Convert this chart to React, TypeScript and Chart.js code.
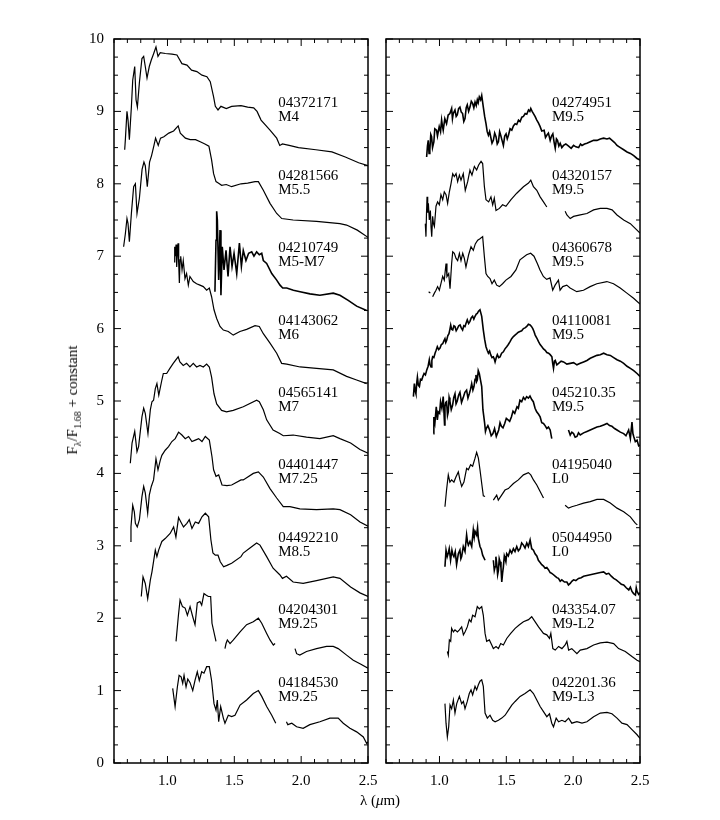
import { useEffect, useRef } from "react";
import { Chart, registerables } from "chart.js";
Chart.register(...registerables);

type P = [number, number];

// ---------- tick labels ----------
const xLabelTicks = [1.0, 1.5, 2.0, 2.5];
const xMinorTicks = [0.6, 0.7, 0.8, 0.9, 1.0, 1.1, 1.2, 1.3, 1.4, 1.5, 1.6, 1.7, 1.8, 1.9, 2.0, 2.1, 2.2, 2.3, 2.4, 2.5];
const yLabelTicks = [0, 1, 2, 3, 4, 5, 6, 7, 8, 9, 10];
const yMinorTicks = Array.from({ length: 41 }, (_, i) => i * 0.25);

// ---------- left panel spectra ----------
const s04372171: P[] = [[0.68,8.47],[0.685,8.61],[0.697,9.0],[0.705,8.88],[0.715,8.61],[0.73,9.06],[0.74,9.43],[0.755,9.62],[0.765,9.16],[0.775,9.06],[0.79,9.4],[0.809,9.73],[0.822,9.76],[0.834,9.62],[0.847,9.46],[0.864,9.62],[0.879,9.71],[0.897,9.8],[0.914,9.89],[0.929,9.76],[0.946,9.81],[0.984,9.8],[1.034,9.79],[1.071,9.78],[1.108,9.66],[1.146,9.64],[1.18,9.57],[1.22,9.55],[1.258,9.5],[1.295,9.48],[1.32,9.41],[1.345,9.2],[1.358,9.07],[1.378,9.02],[1.40,9.07],[1.44,9.04],[1.48,9.07],[1.55,9.08],[1.60,9.06],[1.645,9.05],[1.67,9.0],[1.70,8.88],[1.767,8.74],[1.817,8.63],[1.84,8.53],[1.86,8.55],[1.91,8.53],[1.98,8.5],[2.11,8.47],[2.23,8.44],[2.33,8.37],[2.43,8.29],[2.5,8.25]];
const s04281566: P[] = [[0.672,7.13],[0.685,7.31],[0.697,7.52],[0.705,7.45],[0.715,7.2],[0.73,7.59],[0.747,7.96],[0.76,8.0],[0.772,7.59],[0.79,7.8],[0.81,8.2],[0.824,8.3],[0.834,8.25],[0.849,7.96],[0.866,8.3],[0.881,8.39],[0.899,8.53],[0.911,8.63],[0.931,8.53],[0.948,8.63],[0.973,8.65],[1.01,8.7],[1.046,8.73],[1.08,8.8],[1.096,8.7],[1.134,8.63],[1.17,8.61],[1.21,8.61],[1.245,8.58],[1.28,8.55],[1.31,8.52],[1.33,8.33],[1.345,8.14],[1.363,8.03],[1.38,8.01],[1.405,7.98],[1.44,7.99],[1.48,7.96],[1.55,8.0],[1.6,8.01],[1.655,8.03],[1.68,8.03],[1.717,7.91],[1.767,7.73],[1.817,7.59],[1.855,7.52],[1.94,7.5],[2.115,7.48],[2.29,7.45],[2.34,7.43],[2.42,7.36],[2.5,7.26]];
const s04210749: P[] = [[1.355,6.51],[1.363,7.22],[1.368,7.62],[1.373,7.5],[1.383,6.67],[1.393,7.36],[1.4,6.46],[1.41,7.13],[1.423,6.81],[1.438,7.08],[1.453,6.72],[1.468,7.13],[1.483,6.86],[1.498,7.04],[1.518,6.76],[1.538,7.18],[1.553,6.86],[1.567,7.08],[1.587,6.94],[1.607,7.04],[1.63,7.06],[1.647,7.0],[1.667,7.06],[1.687,7.02],[1.705,7.04],[1.717,6.94],[1.742,6.9],[1.78,6.76],[1.817,6.67],[1.842,6.6],[1.862,6.56],[1.892,6.56],[1.942,6.53],[1.992,6.51],[2.066,6.48],[2.14,6.46],[2.24,6.49],[2.29,6.46],[2.352,6.39],[2.415,6.31],[2.49,6.25]];
const s04143062: P[] = [[1.049,6.92],[1.054,7.13],[1.059,7.0],[1.064,7.16],[1.069,6.85],[1.074,7.05],[1.079,7.18],[1.084,6.9],[1.089,6.63],[1.094,6.95],[1.099,7.0],[1.109,6.81],[1.118,6.94],[1.131,6.69],[1.143,6.76],[1.156,6.6],[1.168,6.72],[1.193,6.65],[1.218,6.62],[1.243,6.6],[1.268,6.58],[1.293,6.53],[1.313,6.56],[1.33,6.44],[1.348,6.26],[1.368,6.14],[1.393,6.03],[1.418,5.98],[1.455,5.96],[1.492,5.91],[1.542,5.96],[1.592,5.99],[1.655,6.04],[1.687,6.03],[1.717,5.93],[1.767,5.8],[1.817,5.66],[1.854,5.52],[1.892,5.51],[1.992,5.47],[2.115,5.45],[2.24,5.43],[2.34,5.34],[2.415,5.29],[2.49,5.24]];
const s04565141: P[] = [[0.722,4.14],[0.735,4.42],[0.755,4.58],[0.772,4.3],[0.784,4.37],[0.809,4.78],[0.822,4.9],[0.834,4.83],[0.854,4.55],[0.872,4.88],[0.884,4.99],[0.896,5.01],[0.909,5.17],[0.921,5.24],[0.935,5.08],[0.958,5.29],[0.969,5.38],[0.994,5.38],[1.018,5.45],[1.043,5.52],[1.08,5.61],[1.093,5.54],[1.118,5.49],[1.143,5.52],[1.168,5.47],[1.193,5.52],[1.218,5.47],[1.243,5.49],[1.268,5.47],[1.293,5.51],[1.313,5.47],[1.33,5.33],[1.348,5.1],[1.368,4.96],[1.405,4.87],[1.442,4.85],[1.492,4.87],[1.567,4.92],[1.667,5.01],[1.687,4.99],[1.717,4.88],[1.742,4.74],[1.79,4.6],[1.84,4.55],[1.866,4.52],[1.94,4.53],[2.04,4.5],[2.14,4.48],[2.24,4.52],[2.29,4.48],[2.37,4.42],[2.44,4.33],[2.5,4.28]];
const s04401447: P[] = [[0.722,3.06],[0.727,3.26],[0.74,3.56],[0.752,3.47],[0.76,3.31],[0.774,3.26],[0.79,3.36],[0.809,3.68],[0.822,3.82],[0.834,3.73],[0.852,3.45],[0.864,3.7],[0.879,3.82],[0.896,3.91],[0.914,4.2],[0.929,4.05],[0.946,4.18],[0.958,4.25],[0.983,4.32],[1.008,4.37],[1.033,4.44],[1.058,4.48],[1.083,4.57],[1.108,4.53],[1.133,4.48],[1.158,4.51],[1.183,4.44],[1.208,4.46],[1.233,4.48],[1.258,4.44],[1.283,4.51],[1.313,4.46],[1.333,4.23],[1.345,4.05],[1.363,3.96],[1.383,3.98],[1.408,3.84],[1.445,3.83],[1.48,3.84],[1.55,3.91],[1.567,3.91],[1.642,4.0],[1.68,4.02],[1.717,3.95],[1.767,3.79],[1.817,3.66],[1.866,3.54],[1.916,3.54],[1.99,3.51],[2.115,3.5],[2.24,3.51],[2.29,3.5],[2.37,3.43],[2.44,3.33],[2.5,3.27]];
const s04492210: P[] = [[0.804,2.3],[0.817,2.57],[0.834,2.48],[0.852,2.27],[0.872,2.53],[0.884,2.64],[0.909,2.94],[0.921,2.85],[0.934,2.94],[0.958,3.06],[0.983,3.1],[1.02,3.17],[1.046,3.26],[1.063,3.12],[1.083,3.39],[1.1,3.33],[1.12,3.26],[1.145,3.31],[1.163,3.36],[1.183,3.24],[1.208,3.33],[1.233,3.31],[1.258,3.4],[1.283,3.45],[1.308,3.4],[1.325,3.08],[1.34,2.9],[1.358,2.87],[1.378,2.87],[1.395,2.78],[1.42,2.71],[1.445,2.73],[1.48,2.76],[1.55,2.85],[1.567,2.9],[1.617,2.97],[1.667,3.04],[1.692,3.01],[1.742,2.85],[1.79,2.69],[1.84,2.6],[1.86,2.55],[1.89,2.58],[1.94,2.5],[2.015,2.48],[2.115,2.52],[2.24,2.57],[2.29,2.55],[2.37,2.43],[2.44,2.35],[2.5,2.3]];
const s04204301J: P[] = [[1.064,1.68],[1.082,2.04],[1.094,2.25],[1.112,2.16],[1.132,2.14],[1.149,2.04],[1.169,2.16],[1.189,2.02],[1.206,1.91],[1.223,2.21],[1.243,2.23],[1.256,2.18],[1.273,2.34],[1.288,2.32],[1.306,2.3],[1.323,2.3],[1.333,1.93],[1.363,1.68]];
const s04204301H: P[] = [[1.43,1.58],[1.438,1.65],[1.448,1.7],[1.468,1.65],[1.493,1.7],[1.543,1.81],[1.592,1.91],[1.642,1.95],[1.68,2.0],[1.705,1.93],[1.742,1.79],[1.767,1.7],[1.792,1.63],[1.805,1.65]];
const s04204301K: P[] = [[1.954,1.58],[1.966,1.51],[1.99,1.49],[2.04,1.54],[2.115,1.58],[2.19,1.61],[2.24,1.61],[2.277,1.58],[2.34,1.49],[2.39,1.42],[2.44,1.37],[2.5,1.31]];
const s04184530JH: P[] = [[1.039,1.03],[1.057,0.78],[1.074,1.05],[1.087,1.21],[1.102,1.19],[1.114,1.1],[1.124,1.21],[1.139,1.05],[1.152,1.16],[1.169,1.11],[1.189,1.0],[1.206,1.14],[1.223,1.26],[1.238,1.14],[1.256,1.26],[1.273,1.24],[1.293,1.33],[1.313,1.33],[1.33,1.14],[1.348,0.82],[1.363,0.73],[1.373,0.87],[1.383,0.57],[1.398,0.78],[1.418,0.62],[1.43,0.55],[1.455,0.66],[1.48,0.64],[1.505,0.66],[1.543,0.8],[1.592,0.87],[1.642,0.96],[1.68,1.0],[1.705,0.92],[1.742,0.78],[1.78,0.66],[1.81,0.55]];
const s04184530K: P[] = [[1.89,0.57],[1.9,0.53],[1.93,0.55],[1.966,0.5],[2.015,0.48],[2.065,0.53],[2.14,0.57],[2.215,0.62],[2.277,0.62],[2.315,0.55],[2.365,0.48],[2.415,0.43],[2.465,0.36],[2.49,0.27],[2.5,0.29]];

// ---------- right panel spectra ----------
const s04274951: P[] = [[0.904,8.37],[0.91,8.52],[0.916,8.6],[0.922,8.42],[0.928,8.47],[0.935,8.68],[0.941,8.65],[0.948,8.5],[0.958,8.58],[0.965,8.76],[0.978,8.74],[0.985,8.66],[0.998,8.79],[1.008,8.72],[1.016,8.88],[1.022,8.8],[1.028,8.74],[1.04,8.9],[1.053,8.83],[1.065,8.95],[1.078,8.97],[1.091,9.04],[1.097,8.9],[1.103,8.97],[1.116,9.02],[1.125,8.93],[1.133,8.95],[1.143,9.04],[1.153,9.06],[1.163,8.99],[1.173,8.97],[1.182,8.86],[1.191,8.9],[1.2,9.05],[1.208,9.09],[1.218,9.0],[1.228,9.06],[1.238,9.14],[1.248,9.11],[1.257,9.05],[1.266,9.13],[1.275,9.08],[1.283,9.16],[1.29,9.12],[1.298,9.2],[1.308,9.16],[1.316,9.22],[1.328,9.06],[1.338,8.93],[1.348,8.83],[1.357,8.72],[1.366,8.67],[1.375,8.72],[1.383,8.65],[1.393,8.56],[1.403,8.6],[1.413,8.7],[1.423,8.65],[1.432,8.55],[1.441,8.58],[1.45,8.72],[1.458,8.67],[1.468,8.6],[1.478,8.53],[1.488,8.66],[1.498,8.69],[1.507,8.62],[1.516,8.67],[1.528,8.76],[1.541,8.74],[1.553,8.8],[1.566,8.83],[1.578,8.82],[1.591,8.88],[1.603,8.86],[1.616,8.92],[1.628,8.93],[1.641,8.97],[1.653,8.96],[1.666,9.02],[1.676,9.0],[1.683,9.04],[1.693,9.0],[1.703,8.97],[1.715,8.93],[1.728,8.88],[1.74,8.84],[1.753,8.79],[1.765,8.73],[1.783,8.74],[1.793,8.64],[1.803,8.67],[1.815,8.7],[1.828,8.6],[1.838,8.66],[1.848,8.69],[1.858,8.57],[1.866,8.49],[1.875,8.62],[1.883,8.6],[1.893,8.52],[1.903,8.56],[1.915,8.5],[1.928,8.53],[1.945,8.55],[1.966,8.52],[1.985,8.49],[2.003,8.53],[2.02,8.51],[2.041,8.5],[2.055,8.55],[2.066,8.53],[2.085,8.55],[2.103,8.56],[2.128,8.58],[2.153,8.6],[2.178,8.6],[2.203,8.62],[2.228,8.63],[2.253,8.62],[2.272,8.63],[2.291,8.6],[2.31,8.57],[2.328,8.53],[2.353,8.5],[2.378,8.47],[2.403,8.44],[2.428,8.42],[2.453,8.39],[2.478,8.35],[2.5,8.33]];
const s04320157a: P[] = [[0.894,7.45],[0.899,7.27],[0.903,7.6],[0.907,7.82],[0.912,7.6],[0.917,7.73],[0.924,7.5],[0.932,7.63],[0.937,7.4],[0.942,7.27],[0.949,7.55],[0.955,7.45],[0.962,7.41],[0.974,7.69],[0.986,7.75],[0.999,7.71],[1.011,7.85],[1.024,7.78],[1.036,7.89],[1.049,7.85],[1.061,7.73],[1.074,7.89],[1.086,8.0],[1.099,8.14],[1.111,8.1],[1.124,8.14],[1.136,8.03],[1.149,8.12],[1.161,8.05],[1.178,8.14],[1.193,7.91],[1.211,8.03],[1.228,8.19],[1.243,8.12],[1.261,8.24],[1.278,8.19],[1.293,8.26],[1.311,8.31],[1.323,8.28],[1.336,7.96],[1.348,7.78],[1.368,7.75],[1.385,7.82],[1.398,7.71],[1.41,7.8],[1.423,7.63],[1.448,7.66],[1.472,7.71],[1.497,7.69],[1.535,7.78],[1.578,7.87],[1.628,7.96],[1.666,8.01],[1.683,8.05],[1.703,7.96],[1.728,7.91],[1.753,7.82],[1.778,7.75],[1.803,7.68]];
const s04320157b: P[] = [[1.94,7.62],[1.953,7.57],[1.978,7.52],[2.003,7.55],[2.053,7.57],[2.103,7.59],[2.153,7.64],[2.203,7.66],[2.253,7.66],[2.291,7.64],[2.328,7.57],[2.378,7.5],[2.428,7.45],[2.466,7.38],[2.5,7.32]];
const s04360678a: P[] = [[0.919,6.51],[0.932,6.49]];
const s04360678b: P[] = [[0.949,6.44],[0.962,6.49],[0.974,6.53],[0.986,6.58],[0.999,6.53],[1.011,6.62],[1.024,6.72],[1.036,6.67],[1.049,6.9],[1.056,6.72],[1.069,6.76],[1.079,6.55],[1.091,6.9],[1.099,7.06],[1.111,7.04],[1.124,6.97],[1.136,6.94],[1.149,7.04],[1.161,6.94],[1.174,7.04],[1.186,6.97],[1.198,6.85],[1.218,7.02],[1.236,7.13],[1.253,7.08],[1.268,7.17],[1.286,7.22],[1.303,7.24],[1.323,7.27],[1.336,6.99],[1.348,6.76],[1.361,6.72],[1.378,6.69],[1.393,6.62],[1.41,6.67],[1.428,6.6],[1.448,6.58],[1.472,6.62],[1.497,6.67],[1.535,6.72],[1.572,6.81],[1.602,6.95],[1.652,7.02],[1.682,7.04],[1.707,7.0],[1.732,6.9],[1.752,6.81],[1.777,6.72],[1.802,6.68],[1.827,6.7],[1.847,6.53],[1.865,6.6],[1.89,6.67],[1.902,6.53],[1.922,6.58],[1.952,6.6],[1.977,6.56],[2.027,6.51],[2.077,6.53],[2.127,6.58],[2.177,6.62],[2.252,6.65],[2.302,6.62],[2.352,6.56],[2.402,6.49],[2.452,6.42],[2.5,6.34]];
const s04110081: P[] = [[0.805,5.06],[0.812,5.24],[0.818,5.14],[0.824,5.1],[0.83,5.25],[0.835,5.33],[0.842,5.22],[0.85,5.2],[0.858,5.3],[0.867,5.29],[0.876,5.34],[0.885,5.38],[0.895,5.36],[0.905,5.43],[0.915,5.48],[0.924,5.57],[0.93,5.5],[0.937,5.47],[0.943,5.56],[0.949,5.61],[0.958,5.6],[0.967,5.66],[0.975,5.7],[0.984,5.75],[0.994,5.71],[1.004,5.73],[1.014,5.78],[1.024,5.79],[1.033,5.83],[1.041,5.86],[1.047,5.81],[1.054,5.84],[1.062,5.9],[1.071,5.93],[1.078,5.99],[1.084,6.05],[1.091,5.99],[1.099,5.98],[1.108,6.04],[1.116,6.03],[1.125,5.97],[1.134,6.0],[1.144,6.04],[1.154,6.05],[1.163,6.01],[1.173,5.98],[1.182,6.04],[1.191,6.03],[1.2,6.08],[1.208,6.12],[1.218,6.07],[1.228,6.1],[1.238,6.15],[1.248,6.17],[1.257,6.13],[1.266,6.17],[1.275,6.2],[1.283,6.21],[1.292,6.24],[1.303,6.26],[1.316,6.17],[1.328,5.98],[1.338,5.85],[1.348,5.75],[1.357,5.7],[1.366,5.66],[1.375,5.69],[1.383,5.64],[1.393,5.6],[1.403,5.61],[1.41,5.58],[1.416,5.54],[1.425,5.6],[1.433,5.64],[1.443,5.6],[1.453,5.61],[1.465,5.66],[1.478,5.68],[1.49,5.72],[1.503,5.75],[1.515,5.78],[1.528,5.82],[1.54,5.86],[1.553,5.89],[1.565,5.91],[1.578,5.93],[1.59,5.95],[1.602,5.96],[1.615,5.97],[1.628,6.0],[1.64,6.01],[1.653,6.03],[1.665,6.06],[1.678,6.05],[1.688,6.03],[1.698,6.0],[1.707,5.96],[1.716,5.91],[1.728,5.87],[1.741,5.82],[1.753,5.78],[1.766,5.75],[1.778,5.72],[1.791,5.7],[1.803,5.67],[1.816,5.66],[1.828,5.64],[1.841,5.61],[1.847,5.52],[1.853,5.45],[1.86,5.55],[1.866,5.56],[1.878,5.5],[1.891,5.52],[1.91,5.55],[1.928,5.54],[1.953,5.51],[1.978,5.52],[2.003,5.53],[2.028,5.5],[2.053,5.52],[2.078,5.54],[2.103,5.56],[2.128,5.59],[2.153,5.61],[2.178,5.63],[2.203,5.64],[2.228,5.66],[2.253,5.64],[2.278,5.63],[2.303,5.6],[2.328,5.57],[2.353,5.55],[2.378,5.52],[2.403,5.48],[2.428,5.45],[2.453,5.42],[2.478,5.38],[2.5,5.34]];
const s045210a: P[] = [[0.954,4.55],[0.958,4.78],[0.966,4.7],[0.976,4.92],[0.984,4.74],[0.991,4.85],[1.001,4.83],[1.008,4.99],[1.018,4.9],[1.028,5.06],[1.038,4.67],[1.041,4.92],[1.047,4.98],[1.053,4.99],[1.06,4.8],[1.066,4.85],[1.072,5.05],[1.078,5.0],[1.088,4.88],[1.098,4.94],[1.107,5.05],[1.116,5.1],[1.124,4.96],[1.133,5.0],[1.143,5.08],[1.153,5.12],[1.165,4.98],[1.178,5.05],[1.19,5.12],[1.203,5.15],[1.213,5.04],[1.223,5.1],[1.232,5.16],[1.241,5.24],[1.25,5.15],[1.258,5.2],[1.266,5.3],[1.273,5.36],[1.278,5.27],[1.283,5.29],[1.29,5.42],[1.298,5.38],[1.306,5.3],[1.316,5.2],[1.325,4.88],[1.332,4.78],[1.338,4.69],[1.344,4.58],[1.35,4.62],[1.362,4.66],[1.375,4.6],[1.387,4.52],[1.4,4.55],[1.412,4.62],[1.425,4.51],[1.435,4.56],[1.443,4.6],[1.453,4.7],[1.463,4.65],[1.475,4.63],[1.488,4.69],[1.5,4.76],[1.513,4.74],[1.525,4.72],[1.538,4.78],[1.55,4.86],[1.563,4.83],[1.58,4.92],[1.59,4.9],[1.602,5.01],[1.615,4.99],[1.628,5.05],[1.64,5.02],[1.652,5.06],[1.665,5.04],[1.677,5.07],[1.69,5.02],[1.702,4.99],[1.715,4.9],[1.727,4.85],[1.74,4.82],[1.753,4.78],[1.765,4.7],[1.778,4.69],[1.79,4.66],[1.803,4.62],[1.815,4.64],[1.828,4.6],[1.84,4.48]];
const s045210b: P[] = [[1.965,4.6],[1.978,4.53],[1.99,4.57],[2.003,4.55],[2.015,4.5],[2.028,4.51],[2.04,4.56],[2.053,4.53],[2.078,4.56],[2.103,4.58],[2.128,4.6],[2.153,4.62],[2.178,4.64],[2.203,4.65],[2.228,4.67],[2.253,4.69],[2.272,4.66],[2.29,4.65],[2.31,4.62],[2.328,4.6],[2.353,4.57],[2.378,4.55],[2.395,4.52],[2.415,4.6],[2.428,4.48],[2.44,4.71],[2.447,4.55],[2.453,4.51],[2.465,4.44],[2.478,4.46],[2.49,4.38],[2.5,4.39]];
const s04195040a: P[] = [[1.041,3.54],[1.053,3.77],[1.066,3.98],[1.078,3.88],[1.091,3.91],[1.108,3.88],[1.123,3.95],[1.141,4.02],[1.153,3.91],[1.166,3.82],[1.183,3.88],[1.203,4.07],[1.216,4.05],[1.233,4.12],[1.248,4.1],[1.266,4.21],[1.278,4.29],[1.291,4.21],[1.303,4.05],[1.316,3.86],[1.328,3.69],[1.341,3.68]];
const s04195040b: P[] = [[1.403,3.63],[1.428,3.7],[1.44,3.63],[1.465,3.7],[1.49,3.77],[1.515,3.79],[1.553,3.86],[1.59,3.91],[1.628,3.98],[1.665,4.01],[1.683,3.98],[1.703,3.91],[1.728,3.84],[1.753,3.75],[1.778,3.66]];
const s04195040c: P[] = [[1.94,3.56],[1.965,3.52],[1.99,3.54],[2.028,3.56],[2.078,3.59],[2.128,3.61],[2.178,3.64],[2.228,3.64],[2.278,3.59],[2.328,3.52],[2.378,3.47],[2.428,3.4],[2.466,3.31],[2.48,3.29]];
const s05044950a: P[] = [[1.041,2.71],[1.049,2.94],[1.058,2.85],[1.066,2.9],[1.073,2.96],[1.083,2.8],[1.093,2.94],[1.1,2.88],[1.108,2.85],[1.118,2.92],[1.128,2.74],[1.141,2.89],[1.153,2.94],[1.16,2.82],[1.166,2.85],[1.178,2.99],[1.191,2.92],[1.203,3.15],[1.21,3.05],[1.216,3.01],[1.228,3.06],[1.241,2.99],[1.253,3.22],[1.26,3.12],[1.266,3.2],[1.278,3.15],[1.285,3.25],[1.291,3.1],[1.303,2.99],[1.313,2.95],[1.323,2.87],[1.341,2.8]];
const s05044950b: P[] = [[1.403,2.8],[1.41,2.66],[1.416,2.71],[1.422,2.85],[1.428,2.76],[1.435,2.6],[1.441,2.66],[1.447,2.82],[1.453,2.78],[1.46,2.7],[1.466,2.5],[1.472,2.62],[1.478,2.71],[1.485,2.86],[1.49,2.83],[1.497,2.78],[1.503,2.89],[1.515,2.86],[1.528,2.94],[1.54,2.9],[1.553,2.96],[1.565,2.92],[1.578,2.99],[1.59,2.93],[1.603,2.96],[1.615,3.04],[1.628,3.01],[1.64,2.97],[1.653,3.04],[1.665,2.99],[1.678,3.08],[1.69,2.96],[1.703,2.94],[1.715,2.89],[1.728,2.86],[1.74,2.8],[1.753,2.77],[1.765,2.74],[1.778,2.72],[1.79,2.69],[1.803,2.7],[1.815,2.67],[1.828,2.63],[1.84,2.62],[1.853,2.6],[1.865,2.58],[1.878,2.56],[1.89,2.55],[1.903,2.51],[1.915,2.53],[1.935,2.5],[1.953,2.5],[1.965,2.46],[1.978,2.48],[1.99,2.51],[2.003,2.53],[2.02,2.52],[2.04,2.55],[2.06,2.56],[2.078,2.58],[2.103,2.59],[2.128,2.6],[2.153,2.61],[2.178,2.62],[2.203,2.63],[2.228,2.64],[2.248,2.61],[2.266,2.62],[2.285,2.58],[2.303,2.55],[2.322,2.53],[2.341,2.5],[2.36,2.47],[2.378,2.46],[2.397,2.42],[2.416,2.39],[2.428,2.43],[2.44,2.37],[2.452,2.34],[2.466,2.32],[2.472,2.42],[2.478,2.37],[2.49,2.33],[2.5,2.35]];
const s043354: P[] = [[1.059,1.54],[1.066,1.49],[1.074,1.7],[1.084,1.68],[1.091,1.86],[1.104,1.81],[1.116,1.84],[1.134,1.81],[1.149,1.84],[1.166,1.88],[1.179,1.77],[1.191,1.81],[1.208,1.88],[1.223,1.98],[1.236,1.95],[1.248,2.04],[1.266,2.02],[1.283,2.16],[1.298,2.13],[1.316,2.16],[1.328,2.04],[1.341,1.79],[1.353,1.68],[1.373,1.7],[1.391,1.63],[1.403,1.58],[1.423,1.61],[1.441,1.58],[1.458,1.65],[1.478,1.63],[1.503,1.72],[1.533,1.79],[1.566,1.86],[1.598,1.91],[1.628,1.95],[1.666,1.98],[1.69,2.02],[1.716,1.95],[1.741,1.88],[1.778,1.79],[1.803,1.77],[1.823,1.72],[1.833,1.79],[1.848,1.58],[1.866,1.56],[1.891,1.61],[1.916,1.58],[1.94,1.63],[1.953,1.68],[1.966,1.56],[1.99,1.58],[2.028,1.51],[2.053,1.56],[2.103,1.58],[2.153,1.63],[2.203,1.66],[2.253,1.67],[2.303,1.65],[2.34,1.58],[2.39,1.54],[2.44,1.47],[2.478,1.42],[2.5,1.4]];
const s042201: P[] = [[1.041,0.82],[1.049,0.55],[1.059,0.36],[1.069,0.5],[1.079,0.8],[1.091,0.75],[1.104,0.87],[1.116,0.69],[1.129,0.82],[1.149,0.92],[1.166,0.82],[1.179,0.85],[1.191,0.75],[1.208,0.85],[1.223,0.96],[1.236,1.01],[1.248,0.94],[1.266,1.06],[1.278,1.01],[1.291,1.08],[1.303,1.13],[1.316,1.15],[1.328,1.06],[1.341,0.69],[1.358,0.62],[1.378,0.66],[1.398,0.59],[1.416,0.57],[1.441,0.59],[1.466,0.62],[1.491,0.66],[1.516,0.73],[1.541,0.8],[1.566,0.85],[1.603,0.92],[1.64,0.96],[1.678,1.01],[1.703,0.96],[1.728,0.87],[1.753,0.78],[1.778,0.71],[1.803,0.64],[1.823,0.68],[1.84,0.55],[1.853,0.5],[1.873,0.62],[1.891,0.57],[1.916,0.59],[1.94,0.57],[1.966,0.62],[1.99,0.55],[2.028,0.57],[2.066,0.55],[2.103,0.57],[2.153,0.64],[2.203,0.69],[2.253,0.7],[2.29,0.68],[2.328,0.62],[2.365,0.55],[2.403,0.53],[2.44,0.46],[2.478,0.39],[2.5,0.34]];

// ---------- names / types ----------
const labelLevels = [9, 8, 7, 6, 5, 4, 3, 2, 1];
const leftNames = ["04372171", "04281566", "04210749", "04143062", "04565141", "04401447", "04492210", "04204301", "04184530"];
const leftTypes = ["M4", "M5.5", "M5-M7", "M6", "M7", "M7.25", "M8.5", "M9.25", "M9.25"];
const leftSpectra: P[][][] = [[s04372171], [s04281566], [s04210749], [s04143062], [s04565141], [s04401447], [s04492210], [s04204301J, s04204301H, s04204301K], [s04184530JH, s04184530K]];
const leftNoisy = [false, false, true, false, false, false, false, false, false];
const rightNames = ["04274951", "04320157", "04360678", "04110081", "045210.35", "04195040", "05044950", "043354.07", "042201.36"];
const rightTypes = ["M9.5", "M9.5", "M9.5", "M9.5", "M9.5", "L0", "L0", "M9-L2", "M9-L3"];
const rightSpectra: P[][][] = [[s04274951], [s04320157a, s04320157b], [s04360678a, s04360678b], [s04110081], [s045210a, s045210b], [s04195040a, s04195040b, s04195040c], [s05044950a, s05044950b], [s043354], [s042201]];
const rightNoisy = [true, false, false, true, true, false, true, false, false];

const FONT = "'Liberation Serif', 'Times New Roman', serif";

function toData(segs: P[][]) {
  const out: { x: number; y: number | null }[] = [];
  segs.forEach((seg, i) => {
    if (i > 0) out.push({ x: (segs[i - 1][segs[i - 1].length - 1][0] + seg[0][0]) / 2, y: null });
    seg.forEach(([x, y]) => out.push({ x, y }));
  });
  return out;
}

const framePlugin = {
  id: "frame",
  afterDatasetsDraw(chart: any, _args: any, opts: any) {
    const { ctx, chartArea: a, scales } = chart;
    const xs = scales.x;
    const ys = scales.y;
    ctx.save();
    ctx.strokeStyle = "#000";
    ctx.lineWidth = 1.5;
    ctx.strokeRect(a.left, a.top, a.right - a.left, a.bottom - a.top);
    ctx.lineWidth = 1;
    ctx.beginPath();
    xMinorTicks.forEach((v) => {
      const px = xs.getPixelForValue(v);
      const major = xLabelTicks.some((m) => Math.abs(m - v) < 1e-6);
      const len = major ? 7 : 4;
      ctx.moveTo(px, a.bottom);
      ctx.lineTo(px, a.bottom - len);
      ctx.moveTo(px, a.top);
      ctx.lineTo(px, a.top + len);
    });
    yMinorTicks.forEach((v) => {
      const py = ys.getPixelForValue(v);
      const major = Math.abs(v - Math.round(v)) < 1e-6;
      const len = major ? 7 : 4;
      ctx.moveTo(a.left, py);
      ctx.lineTo(a.left + len, py);
      ctx.moveTo(a.right, py);
      ctx.lineTo(a.right - len, py);
    });
    ctx.stroke();
    ctx.fillStyle = "#000";
    ctx.font = `15px ${FONT}`;
    ctx.textAlign = "left";
    ctx.textBaseline = "middle";
    const lx = xs.getPixelForValue(opts.labelX);
    (opts.names as string[]).forEach((n, i) => {
      const py = ys.getPixelForValue(labelLevels[i] + 0.11);
      ctx.fillText(n, lx, py);
      ctx.fillText(opts.types[i], lx, py + 14);
    });
    ctx.restore();
  },
};

function makeConfig(spectra: P[][][], noisy: boolean[], names: string[], types: string[], isLeft: boolean, labelX: number): any {
  const tickFont = { family: FONT, size: 15 };
  return {
    type: "line",
    data: {
      datasets: spectra.map((segs, i) => ({
        data: toData(segs),
        borderColor: "#000",
        borderWidth: noisy[i] ? 1.6 : 1.2,
        pointRadius: 0,
        tension: 0,
        fill: false,
        spanGaps: false,
      })),
    },
    options: {
      animation: false,
      responsive: false,
      events: [],
      layout: { padding: isLeft ? { left: 0, right: 12, top: 39, bottom: 0 } : { left: 6, right: 80, top: 39, bottom: 0 } },
      plugins: { legend: { display: false }, tooltip: { enabled: false }, frame: { names, types, labelX } },
      scales: {
        x: {
          type: "linear",
          min: 0.6,
          max: 2.5,
          grid: { display: false, drawTicks: false },
          border: { display: false },
          ticks: { font: tickFont, color: "#000", padding: 9, maxRotation: 0, autoSkip: false, callback: (v: any) => Number(v).toFixed(1) },
          afterBuildTicks: (s: any) => { s.ticks = xLabelTicks.map((v) => ({ value: v })); },
          afterFit: (s: any) => { s.height = 57; s.paddingLeft = 0; s.paddingRight = 0; },
        },
        y: {
          type: "linear",
          min: 0,
          max: 10,
          display: isLeft,
          grid: { display: false, drawTicks: false },
          border: { display: false },
          ticks: { font: tickFont, color: "#000", padding: 10, autoSkip: false, callback: (v: any) => String(v) },
          afterBuildTicks: (s: any) => { s.ticks = yLabelTicks.map((v) => ({ value: v })); },
          afterFit: (s: any) => { if (isLeft) { s.width = 114; } s.paddingTop = 0; s.paddingBottom = 0; },
        },
      },
    },
    plugins: [framePlugin],
  };
}

export default function App() {
  const leftRef = useRef<HTMLCanvasElement>(null);
  const rightRef = useRef<HTMLCanvasElement>(null);
  useEffect(() => {
    const c1 = new Chart(leftRef.current!, makeConfig(leftSpectra, leftNoisy, leftNames, leftTypes, true, 1.828));
    const c2 = new Chart(rightRef.current!, makeConfig(rightSpectra, rightNoisy, rightNames, rightTypes, false, 1.842));
    return () => { c1.destroy(); c2.destroy(); };
  }, []);
  return (
    <div style={{ position: "absolute", left: 0, top: 0, width: 720, height: 820, background: "#fff", fontFamily: FONT, color: "#000" }}>
      <canvas ref={leftRef} width={380} height={820} style={{ position: "absolute", left: 0, top: 0, width: 380, height: 820 }} />
      <canvas ref={rightRef} width={340} height={820} style={{ position: "absolute", left: 380, top: 0, width: 340, height: 820 }} />
      <div style={{ position: "absolute", left: 75, top: 400, transform: "translate(-50%, -50%) rotate(-90deg)", whiteSpace: "nowrap", fontSize: 15, lineHeight: "18px" }}>
        F<sub style={{ fontSize: 10 }}>λ</sub>/F<sub style={{ fontSize: 10 }}>1.68</sub> + constant
      </div>
      <div style={{ position: "absolute", left: 380, top: 800, transform: "translate(-50%, -50%)", whiteSpace: "nowrap", fontSize: 15 }}>
        λ (<i>μ</i>m)
      </div>
    </div>
  );
}
